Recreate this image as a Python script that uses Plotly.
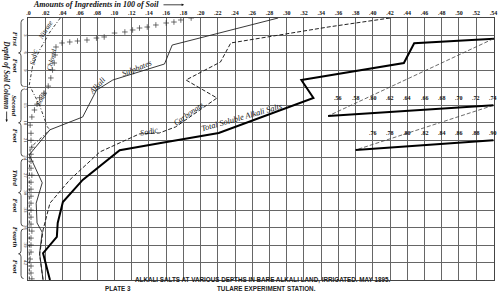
import plotly.graph_objects as go
import numpy as np

# ---------------- data ----------------
# top scale (per cent of soil) and continuation scales
x_tick_vals = [0.00, 0.02, 0.04, 0.06, 0.08, 0.10, 0.12, 0.14, 0.16, 0.18, 0.20, 0.22, 0.24, 0.26,
               0.28, 0.30, 0.32, 0.34, 0.36, 0.38, 0.40, 0.42, 0.44, 0.46, 0.48, 0.50, 0.52, 0.54]
x_tick_text = [".0", ".02", ".04", ".06", ".08", ".10", ".12", ".14", ".16", ".18", ".20", ".22", ".24", ".26",
               ".28", ".30", ".32", ".34", ".36", ".38", ".40", ".42", ".44", ".46", ".48", ".50", ".52", ".54"]
sub1_tick_vals = [0.56, 0.58, 0.60, 0.62, 0.64, 0.66, 0.68, 0.70, 0.72, 0.74]
sub1_tick_text = [".56", ".58", ".60", ".62", ".64", ".66", ".68", ".70", ".72", ".74"]
sub2_tick_vals = [0.76, 0.78, 0.80, 0.82, 0.84, 0.86, 0.88, 0.90]
sub2_tick_text = [".76", ".78", ".80", ".82", ".84", ".86", ".88", ".90"]

# depth of soil column (inches)
y_tick_vals = [3, 6, 9, 12, 15, 18, 21, 24, 27, 30, 33, 36, 39, 42]
y_tick_text = ["3", "6", "9", "12", "15", "18", "21", "24", "27", "30", "33", "36", "39", "42"]
feet_names = ["First", "Second", "Third", "Fourth"]
feet_top = [0, 12, 24, 36]
feet_bottom = [12, 24, 36, 45]

# Total soluble alkali salts
total_depth = [0.0, 1.67, 3.5, 4.35, 7.73, 9.96, 10.65, 13.74, 19.75, 21.5, 22.7, 27.8, 31.6, 35.2, 37.6, 40.4, 45.0]
total_vals = [0.90, 0.74, 0.548, 0.448, 0.436, 0.348, 0.317, 0.331, 0.221, 0.152, 0.106, 0.063, 0.040, 0.034, 0.033, 0.017, 0.025]

# Sodic carbonate
carb_depth = [0.0, 1.55, 4.29, 7.56, 10.65, 13.74, 18.7, 19.75, 19.9, 23.0, 27.8, 31.8, 36.4, 40.7, 45.0]
carb_vals = [0.420, 0.348, 0.235, 0.223, 0.183, 0.219, 0.171, 0.152, 0.129, 0.083, 0.048, 0.025, 0.017, 0.013, 0.017]

# Alkali sulphates
sulph_depth = [0.0, 4.64, 7.9, 10.65, 12.4, 17.0, 19.2, 23.5, 28.3, 31.8, 35.2, 36.8, 40.4, 45.0]
sulph_vals = [0.290, 0.167, 0.158, 0.098, 0.079, 0.063, 0.025, 0.001, 0.016, 0.009, 0.010, 0.016, 0.013, 0.017]

# Sodic nitrate
nitr_depth = [0.0, 2.4, 5.5, 8.1, 11.5, 15.0, 18.7, 19.2, 22.3, 27.0, 33.0, 39.0, 45.0]
nitr_vals = [0.037, 0.025, 0.013, 0.005, 0.001, 0.013, 0.022, 0.025, 0.002, 0.001, 0.001, 0.001, 0.001]

# Sodic chlorid (crossed line)
chlor_depth = [0.0, 0.34, 0.69, 0.86, 1.2, 1.55, 1.72, 2.06, 2.4, 2.58, 3.26, 3.44, 3.78, 3.95, 4.12, 4.29,
               4.98, 6.36, 7.73, 8.93, 10.3, 11.7, 12.9, 13.7, 14.8, 15.8, 17.0, 18.4,
               19.8, 21.0, 22.2, 23.4, 24.6, 25.8, 27.0, 28.2, 29.4, 30.6, 31.8, 33.0, 34.2,
               35.4, 36.6, 37.8, 39.0, 40.2, 41.4, 42.6, 43.8, 44.8]
chlor_vals = [0.189, 0.177, 0.169, 0.160, 0.148, 0.138, 0.129, 0.121, 0.112, 0.100, 0.088, 0.079, 0.068, 0.057, 0.048, 0.039,
              0.032, 0.031, 0.030, 0.028, 0.026, 0.023, 0.018, 0.013, 0.010, 0.007, 0.004, 0.002,
              0.003, 0.003, 0.004, 0.003, 0.003, 0.003, 0.004, 0.003, 0.003, 0.003, 0.003, 0.003, 0.003,
              0.003, 0.004, 0.003, 0.003, 0.003, 0.002, 0.003, 0.003, 0.004]

# ---------------- layout constants ----------------
W, H = 502, 300
L, T, PW, PH = 28, 18, 469, 262
X_RANGE = [-0.0005, 0.5407]
Y_RANGE = [45, 0]
SUB1_DX, SUB1_DY = 0.20, 13.33   # first continuation scale (.56 - .74)
SUB2_DX, SUB2_DY = 0.36, 21.0    # second continuation scale (.76 - .90)
SERIF = "Liberation Serif"
SANS = "Liberation Sans"
GRID = "#666666"
INK = "#111111"


def P(px, py):
    return (px - L) / PW, 1 - (py - T) / PH


def depth_to_paper(d):
    return 1 - (d - Y_RANGE[1]) / (Y_RANGE[0] - Y_RANGE[1])


fig = go.Figure()

# Sodic nitrate
fig.add_trace(go.Scatter(x=nitr_vals, y=nitr_depth, mode="lines",
                         line=dict(color="#222", width=0.9, dash="3px,2px,1px,2px")))
# Alkali sulphates
fig.add_trace(go.Scatter(x=sulph_vals, y=sulph_depth, mode="lines",
                         line=dict(color="#222", width=0.9)))
# Sodic carbonate
fig.add_trace(go.Scatter(x=carb_vals, y=carb_depth, mode="lines",
                         line=dict(color="#222", width=1.0, dash="4px,2px")))
# Sodic chlorid
fig.add_trace(go.Scatter(x=chlor_vals, y=chlor_depth, mode="markers",
                         marker=dict(symbol="cross-thin", size=4, line=dict(color="#333", width=0.7))))
# Total soluble alkali salts (main scale)
fig.add_trace(go.Scatter(x=total_vals, y=total_depth, mode="lines",
                         line=dict(color="#000", width=2.0)))

tv = np.array(total_vals)
td = np.array(total_depth)
# continuation on first extra scale (.54 - .74)
m1 = (tv >= 0.54) & (tv <= 0.74)
fig.add_trace(go.Scatter(x=tv[m1], y=td[m1] + SUB1_DY, xaxis="x2", mode="lines",
                         line=dict(color="#000", width=2.0)))
# continuation on second extra scale (.74 - .90)
m2 = tv >= 0.74
fig.add_trace(go.Scatter(x=tv[m2], y=td[m2] + SUB2_DY, xaxis="x3", mode="lines",
                         line=dict(color="#000", width=2.0)))

# leader lines joining the pieces
order = np.argsort(tv)
exit_depth = float(np.interp(0.54, tv[order], td[order]))
s1_start = tv[m1].min()
s1_start_d = float(td[m1][np.argmin(tv[m1])])
fig.add_trace(go.Scatter(x=[0.54, s1_start - SUB1_DX], y=[exit_depth, s1_start_d + SUB1_DY], mode="lines",
                         line=dict(color="#444", width=0.8, dash="4px,2px")))
d74 = float(td[tv == 0.74][0])
fig.add_trace(go.Scatter(x=[0.74 - SUB1_DX, 0.74 - SUB2_DX], y=[d74 + SUB1_DY, d74 + SUB2_DY], mode="lines",
                         line=dict(color="#444", width=0.8, dash="4px,2px")))

ann = []
# continuation tick labels
for v, t in zip(sub1_tick_vals, sub1_tick_text):
    ann.append(dict(x=v, y=15 - 0.4, xref="x2", yref="y", text=t, showarrow=False, yanchor="bottom",
                    font=dict(family=SERIF, size=6, color=INK, weight="bold")))
for v, t in zip(sub2_tick_vals, sub2_tick_text):
    ann.append(dict(x=v, y=21 - 0.4, xref="x3", yref="y", text=t, showarrow=False, yanchor="bottom",
                    font=dict(family=SERIF, size=6, color=INK, weight="bold")))

# depth tick labels (rotated, between braces and the plot)
for v, t in zip(y_tick_vals, y_tick_text):
    ann.append(dict(x=(25.5 - L) / PW, y=v, xref="paper", yref="y", text=t, showarrow=False,
                    textangle=90, xanchor="center", yanchor="middle",
                    font=dict(family=SERIF, size=5, color="#333")))


def label(text, px, py, angle, size=8, weight="normal"):
    x, y = P(px, py)
    ann.append(dict(x=x, y=y, xref="paper", yref="paper", text="<i>" + text + "</i>", showarrow=False,
                    textangle=angle, xanchor="center", yanchor="middle",
                    font=dict(family=SERIF, size=size, color=INK, weight=weight)))


label("Sodic", 34, 57, -80, 7)
label("Nitrate", 46, 30, -58, 7)
label("Sodic", 42, 98, -62, 7)
label("Chlorid", 52, 60, -76, 7)
label("Alkali", 97, 86, -48)
label("Sulphates", 137, 68, -22)
label("Sodic", 150, 131, -12)
label("Carbonate", 190, 113, -35)
label("Total Soluble Alkali Salts", 243, 118, -16, 8.3)

# title along the top
label("Amounts of Ingredients in 100 of Soil", 96, 4.6, 0, 8, "bold")
ax0, ay0 = P(185, 4.8)
ann.append(dict(x=ax0, y=ay0, xref="paper", yref="paper", ax=-22, ay=0, text="", showarrow=True,
                arrowhead=2, arrowsize=0.6, arrowwidth=0.8, arrowcolor=INK))
# side title
label("Depth of Soil Column", 6.5, 75, 90, 7.5, "bold")
sx0, sy0 = P(6.5, 122)
ann.append(dict(x=sx0, y=sy0, xref="paper", yref="paper", ax=0, ay=-12, text="", showarrow=True,
                arrowhead=2, arrowsize=0.6, arrowwidth=0.8, arrowcolor=INK))

# feet braces
shapes = []
xr = (23.5 - L) / PW
xm = (21 - L) / PW
xl = (18.5 - L) / PW
dd = 3 / PH
for name, a, b in zip(feet_names, feet_top, feet_bottom):
    Y0 = depth_to_paper(a) - 1.5 / PH
    Y1 = depth_to_paper(b) + 1.5 / PH
    Ym = (Y0 + Y1) / 2
    path = (f"M {xr},{Y0} Q {xm},{Y0} {xm},{Y0 - dd} L {xm},{Ym + dd} Q {xm},{Ym} {xl},{Ym} "
            f"Q {xm},{Ym} {xm},{Ym - dd} L {xm},{Y1 + dd} Q {xm},{Y1} {xr},{Y1}")
    shapes.append(dict(type="path", path=path, xref="paper", yref="paper",
                       line=dict(color="#222", width=0.8)))
    fx = (14.5 - L) / PW
    ann.append(dict(x=fx, y=Ym + 4 / PH, xref="paper", yref="paper", text="<i>" + name + "</i>",
                    showarrow=False, textangle=90, yanchor="bottom", xanchor="center",
                    font=dict(family=SERIF, size=7, color=INK, weight="bold")))
    ann.append(dict(x=fx, y=Ym - 4 / PH, xref="paper", yref="paper", text="<i>Foot</i>",
                    showarrow=False, textangle=90, yanchor="top", xanchor="center",
                    font=dict(family=SERIF, size=7, color=INK, weight="bold")))

# captions
cx, cy = P(264, 285.5)
ann.append(dict(x=cx, y=cy, xref="paper", yref="paper", showarrow=False,
                text="ALKALI SALTS AT VARIOUS DEPTHS IN BARE ALKALI LAND, IRRIGATED. MAY 1895.",
                font=dict(family=SANS, size=6.3, color="#222", weight="bold")))
cx, cy = P(103, 294)
ann.append(dict(x=cx, y=cy, xref="paper", yref="paper", showarrow=False, text="PLATE 3",
                font=dict(family=SANS, size=6.3, color="#222", weight="bold")))
cx, cy = P(268, 294)
ann.append(dict(x=cx, y=cy, xref="paper", yref="paper", showarrow=False, text="TULARE EXPERIMENT STATION.",
                font=dict(family=SANS, size=6.3, color="#222", weight="bold")))

fig.update_layout(
    width=W, height=H,
    margin=dict(l=L, r=W - L - PW, t=T, b=H - T - PH, pad=0),
    paper_bgcolor="white", plot_bgcolor="white",
    showlegend=False,
    xaxis=dict(range=X_RANGE, side="top", tickvals=x_tick_vals, ticktext=x_tick_text,
               showgrid=True, gridcolor=GRID, gridwidth=1, zeroline=False,
               showline=True, linecolor="#444", linewidth=1, mirror=True, ticks="", ticklen=0,
               tickfont=dict(family=SERIF, size=6, color=INK, weight="bold")),
    xaxis2=dict(range=[X_RANGE[0] + SUB1_DX, X_RANGE[1] + SUB1_DX], overlaying="x", visible=False),
    xaxis3=dict(range=[X_RANGE[0] + SUB2_DX, X_RANGE[1] + SUB2_DX], overlaying="x", visible=False),
    yaxis=dict(range=Y_RANGE, tickvals=y_tick_vals, showticklabels=False,
               showgrid=True, gridcolor=GRID, gridwidth=1, zeroline=False,
               showline=True, linecolor="#444", linewidth=1, mirror=True, ticks="", ticklen=0),
    annotations=ann,
    shapes=shapes,
)

fig.write_html("out.html")
